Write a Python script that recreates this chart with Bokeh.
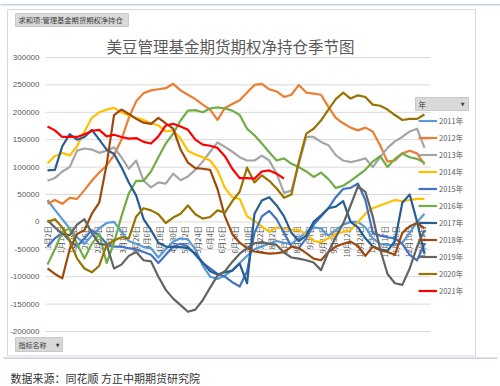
import math
from bokeh.plotting import figure
from bokeh.models import Range1d, Legend, LegendItem, Label, BoxAnnotation
from bokeh.core.properties import value
from bokeh.embed import file_html
from bokeh.resources import INLINE

# ---------------- data ----------------
years = ["2011年", "2012年", "2013年", "2014年", "2015年", "2016年",
         "2017年", "2018年", "2019年", "2020年", "2021年"]
colors = ["#5B9BD5", "#ED7D31", "#A5A5A5", "#FFC000", "#4472C4", "#70AD47",
          "#255E91", "#9E480E", "#636363", "#997300", "#FF0000"]

# weekly report dates, as day of year
week_days = [2 + 7 * i for i in range(52)]

# x tick labels (day of year -> label)
tick_days = [2, 14, 26, 37, 49, 61, 73, 85, 96, 108, 120, 132, 144, 155, 167, 179,
             191, 203, 214, 226, 238, 250, 262, 273, 285, 297, 309, 321, 332, 344, 356]
tick_labels = ["1月2日", "1月14日", "1月26日", "2月6日", "2月18日", "3月2日", "3月14日",
               "3月26日", "4月6日", "4月18日", "4月30日", "5月12日", "5月24日", "6月4日",
               "6月16日", "6月28日", "7月10日", "7月22日", "8月2日", "8月14日", "8月26日",
               "9月7日", "9月19日", "9月30日", "10月12日", "10月24日", "11月5日", "11月17日",
               "11月28日", "12月10日", "12月22日"]
y_ticks = [-200000, -150000, -100000, -50000, 0, 50000, 100000, 150000, 200000, 250000, 300000]
y_labels = [str(t) for t in y_ticks]

UNIT = 1000  # series below are in thousands of contracts
s2011 = [40, 22, 5, -12, -28, -40, -25, -12, -2, 0, -18, -35, -40, -46, -48, -65, -50, -36,
         -30, -32, -50, -80, -100, -104, -98, -88, -75, -62, -50, -45, -40, -35, -38, -40,
         -30, -18, -10, -12, -25, -15, -5, 0, 0, -10, -30, -40, -42, -42, -38, -20, 0, 15]
s2012 = [33, 40, 33, 44, 42, 58, 75, 90, 103, 122, 150, 190, 220, 235, 240, 242, 244, 252,
         240, 232, 224, 214, 205, 186, 208, 215, 222, 236, 250, 252, 242, 238, 228, 232, 250,
         236, 234, 232, 210, 190, 180, 172, 167, 172, 165, 140, 110, 112, 125, 130, 125, 105]
s2013 = [75, 80, 92, 100, 130, 134, 132, 126, 130, 136, 118, 97, 112, 75, 63, 72, 70, 88,
         76, 83, 95, 110, 128, 145, 137, 128, 118, 112, 112, 121, 112, 88, 53, 57, 106, 155,
         155, 146, 140, 122, 112, 109, 112, 116, 100, 118, 135, 147, 155, 165, 170, 135]
s2014 = [107, 120, 126, 121, 138, 165, 190, 200, 205, 208, 200, 194, 190, 186, 180, 176,
         165, 167, 152, 130, 123, 118, 112, 94, 62, 45, 42, 10, 2, -8, -18, -10, -12, -14,
         -15, -22, -35, -37, -30, -22, -18, -15, 0, 15, 25, 30, 35, 40, 38, 40, 42, 42]
s2015 = [-45, -30, -20, -35, -45, -30, -15, -25, -40, -45, -45, -48, -50, -55, -60, -75,
         -60, -45, -40, -45, -60, -75, -85, -95, -100, -110, -118, -90, -20, 10, 20, 5, -20,
         -45, -48, -30, -5, 10, 25, 45, 60, 62, 70, 40, -20, -25, -28, -30, -40, -60, -70, -40]
s2016 = [-78, -50, -18, -12, -40, -67, -40, -22, -75, -38, 10, 52, 75, 75, 92, 118, 143,
         161, 185, 203, 204, 200, 207, 209, 207, 203, 195, 170, 158, 143, 127, 112, 116, 106,
         100, 92, 82, 90, 78, 62, 66, 75, 85, 95, 110, 120, 100, 115, 125, 118, 115, 108]
s2017 = [94, 95, 138, 160, 150, 155, 168, 150, 132, 124, 100, 72, 48, 5, -15, -38, -45, -46,
         -46, -48, -58, -74, -90, -96, -92, -89, -76, -112, 15, 39, 45, 30, 10, -20, -35, -25,
         0, 12, 25, 28, 38, 0, -10, -30, -45, -50, -53, -35, 35, 50, 0, -58]
s2018 = [-85, -95, -103, -50, -22, -15, 15, 35, 105, 195, 205, 197, 188, 181, 179, 190, 180,
         170, 132, 108, 98, 97, 95, 60, 10, -22, -38, -48, -54, -56, -58, -57, -55, -45, -48,
         -57, -67, -70, -55, -45, -40, -36, -44, -62, -45, -52, -55, -60, -20, -8, -2, -12]
s2019 = [3, -10, -22, -24, -5, 5, -20, -40, -42, -85, -78, -62, -55, -70, -72, -100, -124,
         -140, -152, -164, -160, -143, -120, -98, -90, -73, -58, -48, -39, -37, -40, -42, -56,
         -65, -67, -70, -74, -88, -55, -28, -3, 30, 65, 55, 10, -50, -95, -112, -115, -85, -45, -15]
s2020 = [0, 5, -10, -34, -67, -85, -92, -80, -42, -34, -28, -30, 10, 25, 21, 14, -2, 8, 15,
         30, 14, 6, 9, 21, 17, 38, 55, 99, 72, 85, 75, 61, 44, 50, 110, 161, 170, 185, 205,
         224, 236, 225, 231, 228, 214, 212, 205, 195, 186, 188, 188, 196]
s2021 = [174, 167, 155, 155, 155, 160, 166, 168, 156, 159, 155, 152, 153, 146, 143, 156, 176,
         179, 174, 168, 150, 141, 139, 135, 120, 97, 80, 80, 79, 92, 94, 88, 79]
series = [s2011, s2012, s2013, s2014, s2015, s2016, s2017, s2018, s2019, s2020, s2021]

# ---------------- layout ----------------
W, H = 500, 386
# plot area (in canvas pixels) and the data span it shows
PL, PR, PT, PB = 45, 430, 57, 331
X0, X1 = 0.1, 364.7
Y0, Y1 = -200000, 300000
xpp = (X1 - X0) / (PR - PL)
ypp = (Y1 - Y0) / (PB - PT)

p = figure(width=W, height=H, output_backend="svg", toolbar_location=None,
           x_range=Range1d(X0 - PL * xpp, X1 + (W - PR) * xpp),
           y_range=Range1d(Y0 - (H - PB) * ypp, Y1 + PT * ypp),
           x_axis_location=None, y_axis_location=None,
           min_border=0)
p.outline_line_color = None
p.background_fill_color = "white"
p.border_fill_color = "white"
p.grid.visible = False


def sx(px):   # canvas x (from left)
    return px


def sy(py):   # canvas y from top -> screen units from bottom
    return H - py


def box(l, t, r, b, fill=None, line=None, lw=1):
    p.add_layout(BoxAnnotation(left=sx(l), right=sx(r), top=sy(t), bottom=sy(b),
                               left_units="screen", right_units="screen",
                               top_units="screen", bottom_units="screen",
                               fill_color=fill if fill else "white",
                               fill_alpha=1 if fill else 0,
                               line_color=line if line else "white", line_width=lw,
                               line_alpha=1 if line else 0, level="underlay"))


def label(x, y, text, size, color="#404040", font="Noto Sans CJK SC", align="left"):
    p.add_layout(Label(x=sx(x), y=sy(y), x_units="screen", y_units="screen", text=text,
                       text_font=font, text_font_size=size, text_color=color,
                       text_align=align, text_baseline="middle"))


# outer chart border and separators
box(7, 9, 475, 355.5, line="#d9d9d9")
box(0, 3.5, 500, 5, fill="#c5d0e0")
box(3, 357, 497, 358.5, fill="#c5d0e0")

# horizontal gridlines and value-axis labels
p.segment(x0=[X0] * len(y_ticks), x1=[X1] * len(y_ticks), y0=y_ticks, y1=y_ticks,
          line_color="#d9d9d9", line_width=1)
p.text(x=[X0] * len(y_ticks), y=y_ticks, text=y_labels, x_offset=-6,
       text_align="right", text_baseline="middle",
       text_font=value("Liberation Sans"), text_font_size="8px", text_color="#595959")

# category labels drawn at the zero line, rotated
p.text(x=tick_days, y=[0] * len(tick_days), text=tick_labels, angle=math.pi / 2,
       text_align="right", text_baseline="middle", y_offset=4,
       text_font=value("Noto Sans CJK SC"), text_font_size="7.5px", text_color="#595959")

items = []
for yr, col, vals in zip(years, colors, series):
    r = p.line(week_days[:len(vals)], [v * UNIT for v in vals], line_color=col,
               line_width=2.2, line_join="round")
    items.append(LegendItem(label=yr, renderers=[r]))

legend = Legend(items=items, location=(sx(418), sy(298.5)), orientation="vertical",
                padding=0, margin=0, spacing=0, glyph_width=19, glyph_height=17,
                label_height=17, label_standoff=2,
                label_text_font="Noto Sans CJK SC", label_text_font_size="7.5px",
                label_text_color="#595959", background_fill_alpha=0,
                border_line_color=None)
p.add_layout(legend)

# pivot field buttons
box(15, 13, 128, 26, fill="#d9d9d9", line="#c8c8c8")
label(18, 19.5, "求和项:管理基金期货期权净持仓", "7.3px")
box(415, 97, 468, 110, fill="#d9d9d9", line="#c8c8c8")
label(418, 103.5, "年", "7.5px")
label(464, 103.5, "▼", "5px", font="DejaVu Sans", align="right")
box(15, 337, 62, 351, fill="#d9d9d9", line="#c8c8c8")
label(18, 344, "指标名称", "7px")
label(59, 344, "▼", "5px", font="DejaVu Sans", align="right")

# title and source
label(230, 45, "美豆管理基金期货期权净持仓季节图", "15.5px", color="#595959", align="center")
label(10, 377, "数据来源：同花顺 方正中期期货研究院", "11px", color="#333333")

open("out.html", "w").write(file_html(p, INLINE))
